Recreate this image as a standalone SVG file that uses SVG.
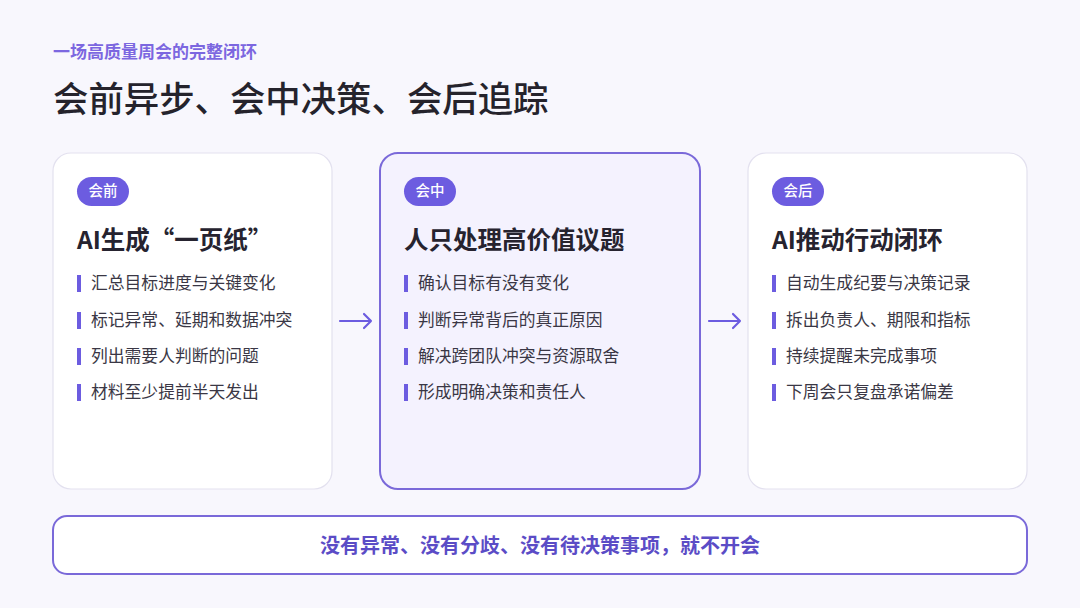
<svg xmlns="http://www.w3.org/2000/svg" width="1080" height="608" viewBox="0 0 1080 608">
<style>
text{font-family:"Noto Sans CJK SC","Liberation Sans",sans-serif}
.card{fill:#ffffff;stroke:#e3e1ef;stroke-width:1.2}
.cardhi{fill:#f4f2fe;stroke:#7a69d9;stroke-width:2}
.pill{fill:#6c5ce0}
.pilltxt{fill:#ffffff;font-size:14.5px;font-weight:500;text-anchor:middle}
.head{fill:#26232f;font-size:24.5px;font-weight:700}
.bar{fill:#6c5ce0}
.item{fill:#3a3745;font-size:16.8px}
.conn{stroke:#6c5ce0;stroke-width:2.2;fill:none;stroke-linecap:round;stroke-linejoin:round}
</style>
<rect width="1080" height="608" fill="#f8f7fd"/>
<text x="53" y="58" font-size="17" font-weight="700" fill="#7c67e0">一场高质量周会的完整闭环</text>
<text x="53" y="112" font-size="35.4" font-weight="500" fill="#25232c">会前异步、会中决策、会后追踪</text>

<g id="card-before">
<rect class="card" x="53" y="153" width="279" height="336" rx="18"/>
<rect class="pill" x="77" y="177" width="52" height="29" rx="14.5"/>
<text class="pilltxt" x="103" y="196">会前</text>
<text class="head" x="77" y="249">AI生成“一页纸”</text>
<rect class="bar" x="77" y="275" width="4" height="17"/>
<text class="item" x="91" y="289">汇总目标进度与关键变化</text>
<rect class="bar" x="77" y="312" width="4" height="17"/>
<text class="item" x="91" y="326">标记异常、延期和数据冲突</text>
<rect class="bar" x="77" y="348" width="4" height="17"/>
<text class="item" x="91" y="362">列出需要人判断的问题</text>
<rect class="bar" x="77" y="384" width="4" height="17"/>
<text class="item" x="91" y="398">材料至少提前半天发出</text>
</g>

<g id="card-during">
<rect class="cardhi" x="380" y="153" width="320" height="336" rx="18"/>
<rect class="pill" x="404" y="177" width="52" height="29" rx="14.5"/>
<text class="pilltxt" x="430" y="196">会中</text>
<text class="head" x="404" y="249">人只处理高价值议题</text>
<rect class="bar" x="404" y="275" width="4" height="17"/>
<text class="item" x="418" y="289">确认目标有没有变化</text>
<rect class="bar" x="404" y="312" width="4" height="17"/>
<text class="item" x="418" y="326">判断异常背后的真正原因</text>
<rect class="bar" x="404" y="348" width="4" height="17"/>
<text class="item" x="418" y="362">解决跨团队冲突与资源取舍</text>
<rect class="bar" x="404" y="384" width="4" height="17"/>
<text class="item" x="418" y="398">形成明确决策和责任人</text>
</g>

<g id="card-after">
<rect class="card" x="748" y="153" width="279" height="336" rx="18"/>
<rect class="pill" x="772" y="177" width="52" height="29" rx="14.5"/>
<text class="pilltxt" x="798" y="196">会后</text>
<text class="head" x="772" y="249">AI推动行动闭环</text>
<rect class="bar" x="772" y="275" width="4" height="17"/>
<text class="item" x="786" y="289">自动生成纪要与决策记录</text>
<rect class="bar" x="772" y="312" width="4" height="17"/>
<text class="item" x="786" y="326">拆出负责人、期限和指标</text>
<rect class="bar" x="772" y="348" width="4" height="17"/>
<text class="item" x="786" y="362">持续提醒未完成事项</text>
<rect class="bar" x="772" y="384" width="4" height="17"/>
<text class="item" x="786" y="398">下周会只复盘承诺偏差</text>
</g>

<g id="connectors">
<path class="conn" d="M340 321 H371 M364 314 L371 321 L364 328"/>
<path class="conn" d="M709 321 H740 M733 314 L740 321 L733 328"/>
</g>

<g id="footer">
<rect x="53" y="516" width="974" height="58" rx="14" fill="#ffffff" stroke="#7a69d9" stroke-width="2"/>
<text x="540" y="553" font-size="20" font-weight="700" fill="#5b4cc6" text-anchor="middle">没有异常、没有分歧、没有待决策事项，就不开会</text>
</g>
</svg>
